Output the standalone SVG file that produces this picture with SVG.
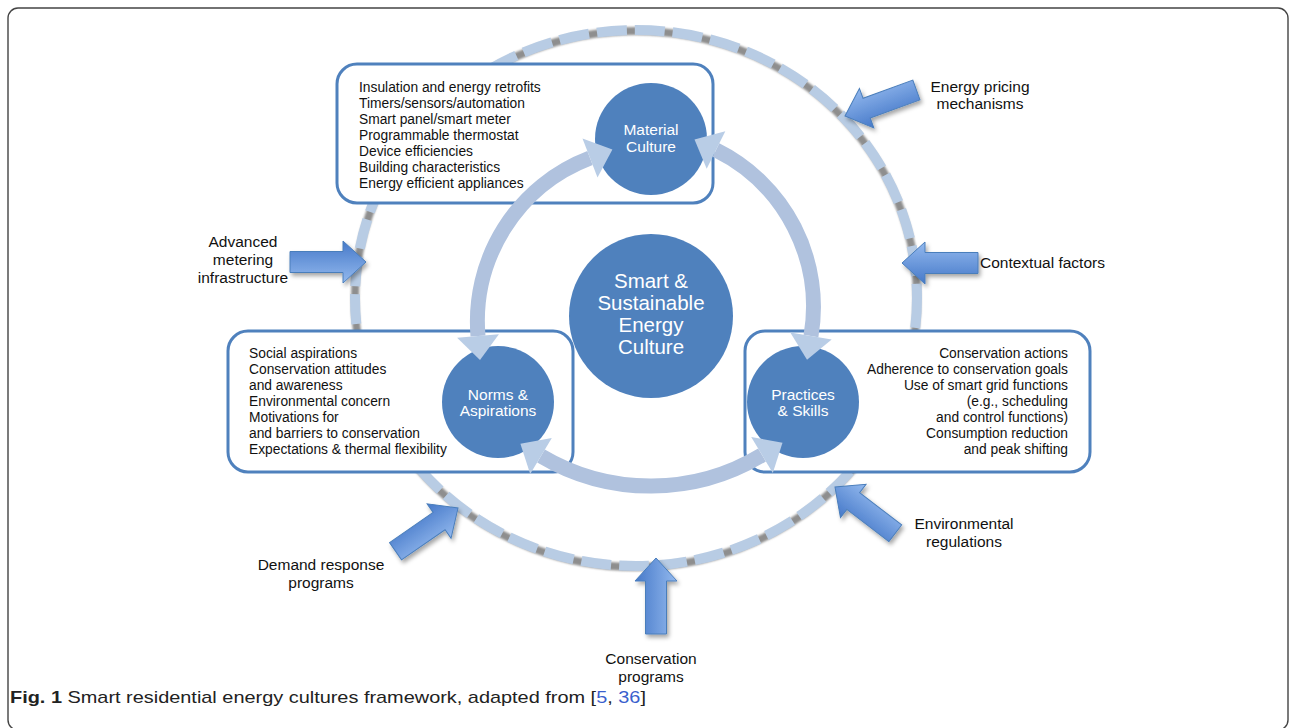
<svg xmlns="http://www.w3.org/2000/svg" width="1290" height="728" viewBox="0 0 1290 728">
<defs>
<style>
.box{fill:#fff;stroke:#4f81bd;stroke-width:3}
.node{fill:#4f81bd}
.ctext{font-family:"Liberation Sans",Arial,sans-serif;fill:#fff;text-anchor:middle}
.btext{font-family:"Liberation Sans",Arial,sans-serif;font-size:13.8px;fill:#111}
.lbl{font-family:"Liberation Sans",Arial,sans-serif;font-size:15.5px;fill:#111;text-anchor:middle}
.arc{fill:none;stroke:#b0c2de;stroke-width:15}
.head{fill:#b9cde6}
.blk{fill:url(#bg);stroke:#4a7ebb;stroke-width:1}
</style>
<linearGradient id="bg" x1="0" y1="0" x2="0" y2="1">
<stop offset="0" stop-color="#4679c9"/>
<stop offset="1" stop-color="#93b9ee"/>
</linearGradient>
<filter id="sh" x="-30%" y="-30%" width="160%" height="160%">
<feDropShadow dx="2" dy="3" stdDeviation="2" flood-color="#000" flood-opacity="0.35"/>
</filter>
<filter id="blur" x="-10%" y="-10%" width="120%" height="120%">
<feGaussianBlur stdDeviation="1.3"/>
</filter>
<path id="ba" d="M-76,-10.5 H-23 V-21 L0,0 L-23,21 V10.5 H-76 Z"/>
</defs>
<rect width="1290" height="728" fill="#fff"/>
<rect x="8" y="8" width="1280" height="722" rx="10" fill="none" stroke="#444" stroke-width="1.4"/>

<g id="ring">
<ellipse cx="636" cy="299" rx="281" ry="268" fill="none" stroke="#8e8e8e" stroke-width="8" filter="url(#blur)"/>
<ellipse cx="636" cy="298" rx="281" ry="268" fill="none" stroke="#b8cce4" stroke-width="10" stroke-dasharray="30 8"/>
</g>

<g id="influences">
<g filter="url(#sh)"><use href="#ba" class="blk" transform="translate(366,262)"/></g>
<g filter="url(#sh)"><use href="#ba" class="blk" transform="translate(902,263) rotate(180)"/></g>
<g filter="url(#sh)"><use href="#ba" class="blk" transform="translate(845,116) rotate(160)"/></g>
<g filter="url(#sh)"><use href="#ba" class="blk" transform="translate(458,508) rotate(-34.7)"/></g>
<g filter="url(#sh)"><use href="#ba" class="blk" transform="translate(656,558) rotate(-90)"/></g>
<g filter="url(#sh)"><use href="#ba" class="blk" transform="translate(835,487) rotate(-142.5)"/></g>
</g>

<g id="label-pricing"><text class="lbl" x="980" y="92">Energy pricing</text><text class="lbl" x="980" y="109">mechanisms</text></g>
<g id="label-ami"><text class="lbl" x="243" y="247">Advanced</text><text class="lbl" x="243" y="265">metering</text><text class="lbl" x="243" y="283">infrastructure</text></g>
<g id="label-context"><text class="lbl" x="980" y="268" style="text-anchor:start">Contextual factors</text></g>
<g id="label-demand"><text class="lbl" x="321" y="570">Demand response</text><text class="lbl" x="321" y="588">programs</text></g>
<g id="label-conservation"><text class="lbl" x="651" y="664">Conservation</text><text class="lbl" x="651" y="682">programs</text></g>
<g id="label-env"><text class="lbl" x="964" y="529">Environmental</text><text class="lbl" x="964" y="547">regulations</text></g>

<g id="material">
<rect class="box" x="337" y="64" width="376" height="139" rx="20"/>
<text class="btext" x="359" y="92">Insulation and energy retrofits</text>
<text class="btext" x="359" y="108">Timers/sensors/automation</text>
<text class="btext" x="359" y="124">Smart panel/smart meter</text>
<text class="btext" x="359" y="140">Programmable thermostat</text>
<text class="btext" x="359" y="156">Device efficiencies</text>
<text class="btext" x="359" y="172">Building characteristics</text>
<text class="btext" x="359" y="188">Energy efficient appliances</text>
<circle class="node" cx="651" cy="139" r="56"/>
<text class="ctext" x="651" y="135" font-size="15.5">Material</text>
<text class="ctext" x="651" y="152" font-size="15.5">Culture</text>
</g>

<g id="norms">
<rect class="box" x="228" y="331" width="345" height="141" rx="20"/>
<text class="btext" x="249" y="358">Social aspirations</text>
<text class="btext" x="249" y="374">Conservation attitudes</text>
<text class="btext" x="249" y="390">and awareness</text>
<text class="btext" x="249" y="406">Environmental concern</text>
<text class="btext" x="249" y="422">Motivations for</text>
<text class="btext" x="249" y="438">and barriers to conservation</text>
<text class="btext" x="249" y="454">Expectations &amp; thermal flexibility</text>
<circle class="node" cx="498" cy="402" r="56"/>
<text class="ctext" x="498" y="400" font-size="15.5">Norms &amp;</text>
<text class="ctext" x="498" y="416" font-size="15.5">Aspirations</text>
</g>

<g id="practices">
<rect class="box" x="745" y="331" width="345" height="141" rx="20"/>
<g style="text-anchor:end">
<text class="btext" x="1068" y="358">Conservation actions</text>
<text class="btext" x="1068" y="374">Adherence to conservation goals</text>
<text class="btext" x="1068" y="390">Use of smart grid functions</text>
<text class="btext" x="1068" y="406">(e.g., scheduling</text>
<text class="btext" x="1068" y="422">and control functions)</text>
<text class="btext" x="1068" y="438">Consumption reduction</text>
<text class="btext" x="1068" y="454">and peak shifting</text>
</g>
<circle class="node" cx="803" cy="402" r="56"/>
<text class="ctext" x="803" y="400" font-size="15.5">Practices</text>
<text class="ctext" x="803" y="416" font-size="15.5">&amp; Skills</text>
</g>

<g id="core">
<circle class="node" cx="651" cy="316" r="82"/>
<text class="ctext" x="651" y="288" font-size="20.5">Smart &amp;</text>
<text class="ctext" x="651" y="310" font-size="20.5">Sustainable</text>
<text class="ctext" x="651" y="332" font-size="20.5">Energy</text>
<text class="ctext" x="651" y="354" font-size="20.5">Culture</text>
</g>

<g id="connectors">
<path class="arc" d="M478,336 A175,175 0 0 1 590,158"/>
<polygon class="head" points="612.4,149.4 582.5,138.4 597.5,177.6"/>
<polygon class="head" points="480,359.9 457.1,337.7 498.9,334.3"/>
<path class="arc" d="M716,150 A175,175 0 0 1 811,336"/>
<polygon class="head" points="694.5,139.4 725.3,131.2 706.7,168.8"/>
<polygon class="head" points="807,359.7 831.7,339.5 790.3,332.5"/>
<path class="arc" d="M541,456 A215,215 0 0 0 762,455"/>
<polygon class="head" points="520.4,443.7 530.2,474.1 551.8,437.9"/>
<polygon class="head" points="782.5,442.7 772.8,473 751.2,437"/>
</g>

<g id="caption">
<text x="10" y="703" font-family="'Liberation Sans Narrow','Liberation Sans',Arial,sans-serif" font-size="17" fill="#222" textLength="636" lengthAdjust="spacingAndGlyphs"><tspan font-weight="bold">Fig. 1</tspan> Smart residential energy cultures framework, adapted from [<tspan fill="#3a5fcd">5</tspan>, <tspan fill="#3a5fcd">36</tspan>]</text>
</g>
</svg>
